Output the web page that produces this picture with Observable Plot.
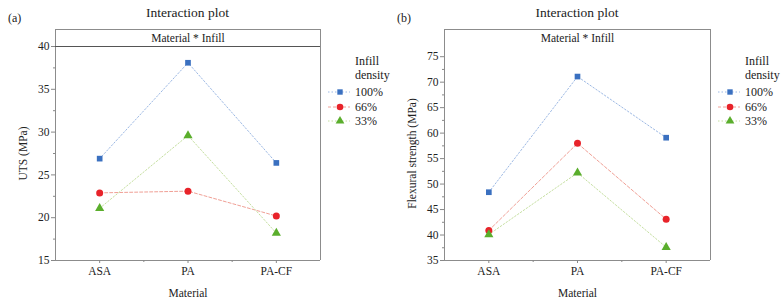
<!DOCTYPE html>
<html>
<head>
<meta charset="utf-8">
<script src="https://cdn.jsdelivr.net/npm/d3@7"></script>
<script src="https://cdn.jsdelivr.net/npm/@observablehq/plot@0.6"></script>
<style>
  html, body { margin: 0; padding: 0; background: #fff; }
  #wrap { position: relative; width: 783px; height: 307px; color: #222; overflow: hidden; font-family: "Liberation Serif", serif; }
  .abs { position: absolute; white-space: nowrap; }
  .title { font-size: 13.5px; text-align: center; }
  .tag { font-size: 12px; }
  .strip { position: absolute; box-sizing: border-box; border-top: 1px solid #8c8c8c; border-left: 1px solid #8c8c8c; border-right: 1px solid #8c8c8c; font-size: 11.5px; text-align: center; background: #fff; }
  .leg { position: absolute; font-size: 12px; line-height: 14px; }
  .leg .row { display: flex; align-items: center; height: 14.5px; }
  .leg svg { display: block; margin-right: 4px; }
</style>
</head>
<body>
<div id="wrap"></div>
<script>
const materials = ["ASA", "PA", "PA-CF"];
const densities = ["100%", "66%", "33%"];

// UTS (MPa)
const uts100 = [26.9, 38.1, 26.4];
const uts66  = [22.9, 23.1, 20.2];
const uts33  = [21.1, 29.6, 18.2];

// Flexural strength (MPa)
const flex100 = [48.4, 71.1, 59.1];
const flex66  = [40.9, 58.0, 43.1];
const flex33  = [40.1, 52.2, 37.6];

const utsTicks  = [15, 20, 25, 30, 35, 40];
const utsMinor  = [17.5, 22.5, 27.5, 32.5, 37.5];
const flexTicks = [35, 40, 45, 50, 55, 60, 65, 70, 75];
const flexMinor = [37.5, 42.5, 47.5, 52.5, 57.5, 62.5, 67.5, 72.5];

const markerColor = {"100%": "#3a70c0", "66%": "#e8232a", "33%": "#5aae2c"};
const lineColor   = {"100%": "#9db9e4", "66%": "#f0a096", "33%": "#c5dfa0"};
const dash        = {"100%": "1.5,2", "66%": "3,2", "33%": "1.5,2"};
const symbolOf    = {"100%": "square", "66%": "circle", "33%": "triangle"};
const rOf         = {"100%": 3.2, "66%": 3.5, "33%": 3.4};

const FONT = "'Liberation Serif', serif";
const FRAME = "#8c8c8c";

function makeData(series) {
  const data = [];
  densities.forEach((d, i) => materials.forEach((m, j) => data.push({density: d, material: m, mi: j, value: series[i][j]})));
  return data;
}

function panel({series, yDomain, ticks, minor, yLabel, width, ml, mr, yLabelOffset, topStroke}) {
  const data = makeData(series);
  const marks = [
    Plot.ruleX([-0.5, 2.5], {stroke: FRAME, strokeWidth: 1}),
    Plot.ruleY([yDomain[0]], {stroke: FRAME, strokeWidth: 1}),
    Plot.ruleY([yDomain[1]], {stroke: topStroke, strokeWidth: 1}),
    Plot.axisY({ticks: minor, tickSize: 2, tickFormat: () => "", label: null, stroke: "#888"}),
    Plot.axisY({ticks, tickSize: 4, tickPadding: 2, stroke: "#888", fill: "#222", fontSize: 11.5,
      label: yLabel, labelAnchor: "center", labelOffset: yLabelOffset, labelArrow: "none"}),
    Plot.axisX({ticks: [0.5, 1.5], tickSize: 2, tickFormat: () => "", label: null, stroke: "#888"}),
    Plot.axisX({ticks: [0, 1, 2], tickFormat: i => materials[i], tickSize: 3, tickPadding: 3, stroke: "#888", fill: "#222", fontSize: 11.5,
      label: "Material", labelAnchor: "center", labelOffset: 36, labelArrow: "none"})
  ];
  densities.forEach(d => {
    marks.push(Plot.line(data.filter(r => r.density === d), {x: "mi", y: "value", stroke: lineColor[d], strokeWidth: 1, strokeDasharray: dash[d]}));
  });
  densities.forEach(d => {
    marks.push(Plot.dot(data.filter(r => r.density === d), {x: "mi", y: "value", symbol: symbolOf[d], r: rOf[d], fill: markerColor[d], stroke: "none"}));
  });
  return Plot.plot({
    width, height: 307,
    marginLeft: ml, marginRight: mr, marginTop: 46, marginBottom: 47,
    style: {fontFamily: FONT, fontSize: "13px", background: "transparent", color: "#222"},
    x: {type: "linear", domain: [-0.5, 2.5]},
    y: {domain: yDomain},
    marks
  });
}

const wrap = document.getElementById("wrap");

function addDiv(cls, text, css) {
  const el = document.createElement("div");
  el.className = cls;
  el.textContent = text;
  Object.assign(el.style, css);
  wrap.appendChild(el);
  return el;
}

function legend(left, top) {
  const box = document.createElement("div");
  box.className = "leg";
  box.style.left = left + "px";
  box.style.top = top + "px";
  const head = document.createElement("div");
  head.style.marginLeft = "28px";
  head.style.marginBottom = "3px";
  head.innerHTML = "Infill<br>density";
  box.appendChild(head);
  densities.forEach(d => {
    const row = document.createElement("div");
    row.className = "row";
    const svg = d3.create("svg").attr("width", 24).attr("height", 12);
    svg.append("line").attr("x1", 1).attr("x2", 23).attr("y1", 6).attr("y2", 6)
      .attr("stroke", lineColor[d]).attr("stroke-dasharray", dash[d]);
    const t = {square: d3.symbolSquare, circle: d3.symbolCircle, triangle: d3.symbolTriangle}[symbolOf[d]];
    svg.append("path").attr("transform", "translate(13,6)")
      .attr("d", d3.symbol(t, Math.PI * rOf[d] * rOf[d] * 0.9)()).attr("fill", markerColor[d]);
    row.appendChild(svg.node());
    const lab = document.createElement("span");
    lab.textContent = d;
    row.appendChild(lab);
    box.appendChild(row);
  });
  wrap.appendChild(box);
}

// Panel (a)
const pa = panel({series: [uts100, uts66, uts33], yDomain: [15, 40], ticks: utsTicks, minor: utsMinor,
  yLabel: "UTS (MPa)", width: 390, ml: 55, mr: 70, yLabelOffset: 37, topStroke: "#555"});
pa.style.position = "absolute"; pa.style.left = "0px"; pa.style.top = "0px";
wrap.appendChild(pa);

// Panel (b)
const pb = panel({series: [flex100, flex66, flex33], yDomain: [35, 77], ticks: flexTicks, minor: flexMinor,
  yLabel: "Flexural strength (MPa)", width: 393, ml: 54, mr: 73, yLabelOffset: 37, topStroke: FRAME});
pb.style.position = "absolute"; pb.style.left = "390px"; pb.style.top = "0px";
wrap.appendChild(pb);

// Titles, tags, strips
addDiv("abs title", "Interaction plot", {left: "55px", width: "265px", top: "5px"});
addDiv("abs title", "Interaction plot", {left: "444px", width: "266px", top: "5px"});
addDiv("abs tag", "(a)", {left: "8px", top: "11px"});
addDiv("abs tag", "(b)", {left: "397px", top: "11px"});
addDiv("strip", "Material * Infill", {left: "55px", top: "29px", width: "266px", height: "17px", lineHeight: "16px"});
addDiv("strip", "Material * Infill", {left: "444px", top: "29px", width: "267px", height: "18px", lineHeight: "17px"});

legend(327, 54);
legend(717, 54);
</script>
</body>
</html>
